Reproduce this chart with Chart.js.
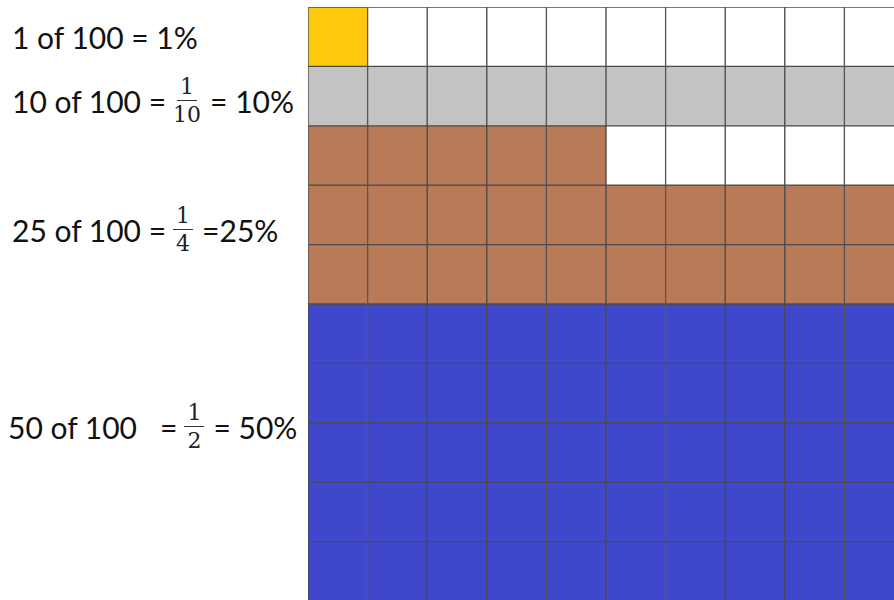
<!DOCTYPE html>
<html>
<head>
<meta charset="utf-8">
<script src="https://cdn.jsdelivr.net/npm/chart.js@4"></script>
<style>
  html, body { margin: 0; padding: 0; width: 894px; height: 600px; overflow: hidden; background: #fff; }
  #wrap { position: absolute; left: 308px; top: 7px; width: 596px; height: 594px; }
  .lbl { position: absolute; font-family: Lato, sans-serif; font-size: 30px; color: #111;
         display: flex; align-items: center; white-space: pre; line-height: 1; }
  .frac { display: inline-flex; flex-direction: column; align-items: center;
          font-family: "DejaVu Serif", serif; font-size: 22px; line-height: 1; margin: 0 9px 0 7px; color: #222; }
  .frac .n { border-bottom: 1.5px solid #333; padding: 0 3px 2px; }
  .frac .d { padding-top: 3px; }
</style>
</head>
<body>
<div class="lbl" style="left:12px; top:22px;">1 of 100 = 1%</div>
<div class="lbl" style="left:12px; top:76px;">10 of 100 =<span class="frac"><span class="n">1</span><span class="d">10</span></span>= 10%</div>
<div class="lbl" style="left:12px; top:205px;">25 of 100 =<span class="frac"><span class="n">1</span><span class="d">4</span></span>=25%</div>
<div class="lbl" style="left:8px; top:402px;">50 of 100   =<span class="frac"><span class="n">1</span><span class="d">2</span></span>= 50%</div>
<div id="wrap"><canvas id="grid"></canvas></div>
<script>
// 10 x 10 hundred grid, one dataset per row
var columns = ['1', '2', '3', '4', '5', '6', '7', '8', '9', '10'];
var rowFilled = [1, 10, 5, 10, 10, 10, 10, 10, 10, 10];
var rowGroup = ['1%', '10%', '25%', '25%', '25%', '50%', '50%', '50%', '50%', '50%'];
var groupColor = { '1%': '#ffc90e', '10%': '#c3c3c3', '25%': '#b97a57', '50%': '#3f48cc' };

var datasets = rowFilled.map(function (n, r) {
  return {
    label: 'row ' + (r + 1),
    data: columns.map(function () { return 1; }),
    backgroundColor: columns.map(function (c, i) { return i < n ? groupColor[rowGroup[r]] : '#ffffff'; }),
    borderColor: '#4b4b4b',
    borderWidth: 1,
    borderSkipped: false,
    barPercentage: 1,
    categoryPercentage: 1
  };
});

new Chart(document.getElementById('grid'), {
  type: 'bar',
  data: { labels: columns, datasets: datasets },
  options: {
    responsive: true,
    maintainAspectRatio: false,
    animation: false,
    layout: { padding: 0 },
    plugins: { legend: { display: false }, tooltip: { enabled: false } },
    scales: {
      x: { display: false, stacked: true },
      y: { display: false, stacked: true, min: 0, max: 10, reverse: true }
    }
  }
});
</script>
</body>
</html>
